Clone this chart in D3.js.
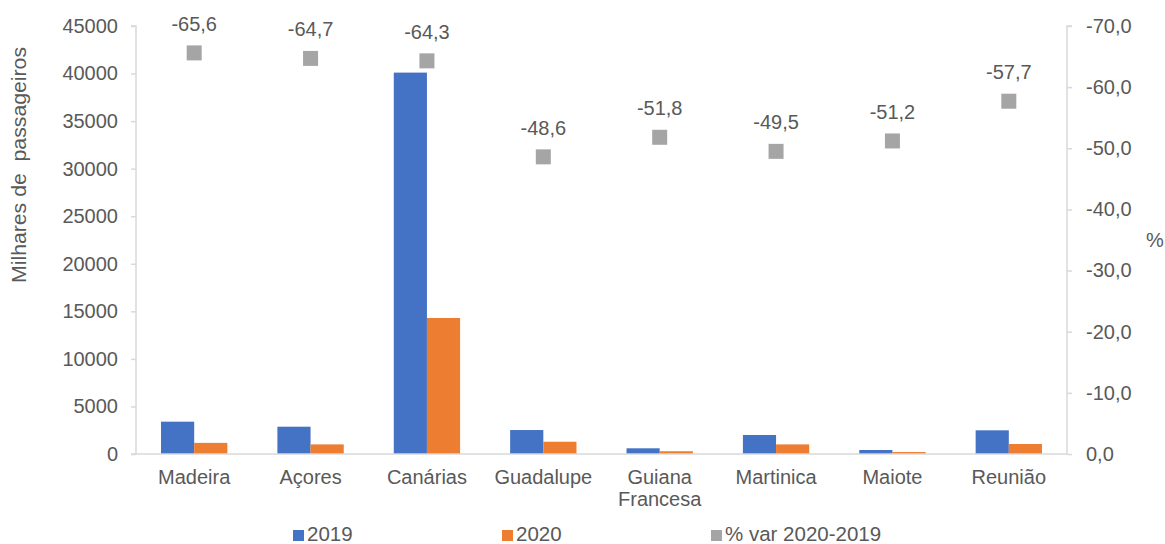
<!DOCTYPE html>
<html><head><meta charset="utf-8">
<script src="https://cdn.jsdelivr.net/npm/d3@7"></script>
<style>body{margin:0;background:#fff;} text{font-family:"Liberation Sans",Arial,sans-serif;fill:#595959;}</style>
</head><body>
<svg id="c" width="1165" height="544"></svg>
<script>
const categories = ["Madeira","Açores","Canárias","Guadalupe","Guiana Francesa","Martinica","Maiote","Reunião"];
const series2019 = [3400, 2870, 40100, 2520, 600, 2000, 420, 2490];
const series2020 = [1170, 1010, 14300, 1290, 290, 1010, 205, 1050];
const pctVar = [-65.6, -64.7, -64.3, -48.6, -51.8, -49.5, -51.2, -57.7];
const leftTicks = [0,5000,10000,15000,20000,25000,30000,35000,40000,45000];
const rightTicks = [0,-10,-20,-30,-40,-50,-60,-70];
const legendLabels = ["2019","2020","% var 2020-2019"];
const colors = ["#4472C4","#ED7D31","#A5A5A5"];

const svg = d3.select("#c");
const m = {l:136, r:1067, t:26, b:454};
const x = d3.scaleBand().domain(categories).range([m.l, m.r]).paddingInner(0.43).paddingOuter(0.215);
const xs = d3.scaleBand().domain(["2019","2020"]).range([0, x.bandwidth()]);
const yL = d3.scaleLinear().domain([0,45000]).range([m.b, m.t]);
const yR = d3.scaleLinear().domain([0,-70]).range([m.b, m.t]);
const fmt = d => (+d).toFixed(1).replace(".", ",");
const FS = "20px";

// axes
const axL = svg.append("g").attr("transform",`translate(${m.l},0)`)
  .call(d3.axisLeft(yL).tickValues(leftTicks).tickSize(5).tickPadding(13).tickFormat(d=>String(d)));
const axR = svg.append("g").attr("transform",`translate(${m.r},0)`)
  .call(d3.axisRight(yR).tickValues(rightTicks).tickSize(5).tickPadding(14).tickFormat(fmt));
[axL,axR].forEach(a=>{
  a.selectAll("path,line").attr("stroke","#d9d9d9").attr("stroke-width",1.5);
  a.selectAll("text").style("font-size",FS).attr("fill","#595959");
  a.select(".domain").attr("d", a===axL ? `M-5,${m.t}H0V${m.b}` : `M5,${m.t}H0V${m.b}`);
});

// bars
const g = svg.append("g");
categories.forEach((c,i)=>{
  [[series2019[i],"2019",colors[0]],[series2020[i],"2020",colors[1]]].forEach(([v,k,col])=>{
    g.append("rect").attr("x", x(c)+xs(k)).attr("width", xs.bandwidth())
      .attr("y", yL(v)).attr("height", m.b - yL(v)).attr("fill", col);
  });
});
// baseline
svg.append("line").attr("x1",m.l-5).attr("x2",m.r).attr("y1",m.b).attr("y2",m.b)
  .attr("stroke","#d9d9d9").attr("stroke-width",1.5);

// markers
categories.forEach((c,i)=>{
  const cx = x(c)+x.bandwidth()/2, cy = yR(pctVar[i]);
  svg.append("rect").attr("x",cx-7.5).attr("y",cy-7.5).attr("width",15).attr("height",15).attr("fill",colors[2]);
  svg.append("text").attr("x",cx).attr("y",cy-22).attr("text-anchor","middle")
    .style("font-size",FS).attr("fill","#404040").text(fmt(pctVar[i]));
});

// category labels
categories.forEach(c=>{
  const cx = x(c)+x.bandwidth()/2;
  const parts = c==="Guiana Francesa" ? ["Guiana","Francesa"] : [c];
  parts.forEach((p,j)=>{
    svg.append("text").attr("x",cx).attr("y",484+j*22).attr("text-anchor","middle")
      .style("font-size",FS).text(p);
  });
});

// axis titles
svg.append("text").attr("transform","translate(26,165) rotate(-90)").attr("text-anchor","middle")
  .style("font-size","20px").attr("textLength",236).attr("lengthAdjust","spacingAndGlyphs")
  .style("white-space","pre").text("Milhares de  passageiros");
svg.append("text").attr("x",1155).attr("y",247).attr("text-anchor","middle")
  .style("font-size",FS).text("%");

// legend
const legX = [293, 502, 711];
legendLabels.forEach((l,i)=>{
  svg.append("rect").attr("x",legX[i]).attr("y",530).attr("width",11).attr("height",11).attr("fill",colors[i]);
  svg.append("text").attr("x",legX[i]+14).attr("y",541).style("font-size","20.5px").text(l);
});
</script>
</body></html>
